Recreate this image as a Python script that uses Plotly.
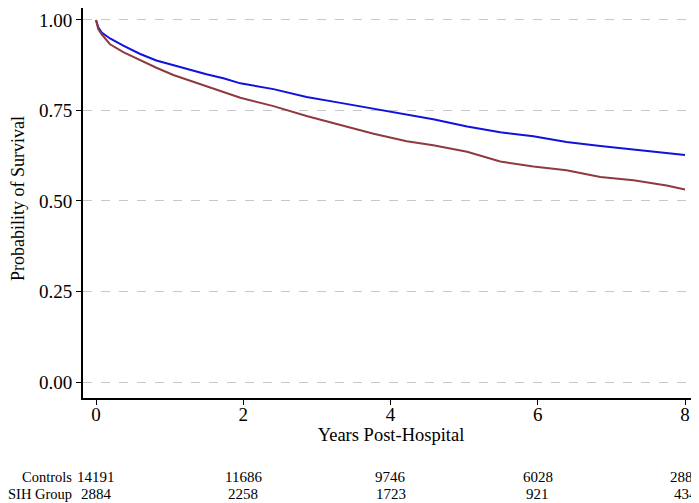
import plotly.graph_objects as go

years = [0, 0.03, 0.077, 0.19, 0.37, 0.60, 0.82, 1.05, 1.28, 1.50, 1.73, 1.96, 2.41, 2.86, 3.32, 3.77, 4.22, 4.58, 5.04, 5.49, 5.94, 6.39, 6.85, 7.30, 7.75, 8.0]
controls = [1.0, 0.980, 0.965, 0.949, 0.929, 0.906, 0.888, 0.875, 0.861, 0.850, 0.839, 0.825, 0.809, 0.787, 0.771, 0.755, 0.740, 0.726, 0.706, 0.690, 0.679, 0.663, 0.652, 0.643, 0.633, 0.627]
sih = [1.0, 0.975, 0.960, 0.933, 0.911, 0.888, 0.868, 0.848, 0.832, 0.816, 0.800, 0.785, 0.762, 0.735, 0.710, 0.686, 0.665, 0.654, 0.636, 0.609, 0.595, 0.585, 0.566, 0.557, 0.543, 0.532]

risk_times = [0, 2, 4, 6, 8]
risk_controls = [14191, 11686, 9746, 6028, 2881]
risk_sih = [2884, 2258, 1723, 921, 434]
risk_labels = ["Controls", "SIH Group"]

font = "Liberation Serif"
fig = go.Figure()
fig.add_trace(go.Scatter(x=years, y=controls, mode="lines", line=dict(color="#1212dc", width=2), name="Controls"))
fig.add_trace(go.Scatter(x=years, y=sih, mode="lines", line=dict(color="#8e3a3e", width=2), name="SIH Group"))

annotations = []
for lab, vals, py in [(risk_labels[0], risk_controls, -0.2026), (risk_labels[1], risk_sih, -0.246)]:
    annotations.append(dict(text=lab, xref="paper", yref="paper", x=-0.0146, y=py, xanchor="right", yanchor="middle", showarrow=False, font=dict(family=font, size=14.5, color="black")))
    for t, v in zip(risk_times, vals):
        annotations.append(dict(text=str(v), xref="x", yref="paper", x=t, y=py, xanchor="center", yanchor="middle", showarrow=False, font=dict(family=font, size=15, color="black")))

annotations.append(dict(text="Probability of Survival", xref="paper", yref="paper", x=-0.1055, y=0.51, xanchor="center", yanchor="middle",
                        textangle=-90, showarrow=False, font=dict(family=font, size=18, color="black")))

fig.update_layout(
    width=691, height=495,
    margin=dict(l=75, r=0, t=0, b=105, autoexpand=False),
    plot_bgcolor="white", paper_bgcolor="white",
    showlegend=False,
    font=dict(family=font, size=16, color="black"),
    annotations=annotations,
    xaxis=dict(range=[-0.177, 8.19], tickvals=risk_times, ticks="outside", ticklen=5, tickwidth=1, tickcolor="black",
               showline=True, linecolor="black", linewidth=2, showgrid=False, zeroline=False, automargin=False,
               ticklabelstandoff=-7, ticklabeloverflow="allow",
               title=dict(text="Years Post-Hospital", font=dict(size=18.5), standoff=2), tickfont=dict(size=19)),
    yaxis=dict(range=[-0.0442, 1.0331], tickvals=[0, 0.25, 0.5, 0.75, 1.0], tickformat=".2f", ticks="outside", ticklen=5, tickwidth=1, tickcolor="black",
               showline=True, linecolor="black", linewidth=2, showgrid=True, gridcolor="#c8c8c8", griddash="dash", gridwidth=1, zeroline=False, automargin=False,
               ticklabeloverflow="allow", tickfont=dict(size=19)),
)
fig.write_html("out.html")
